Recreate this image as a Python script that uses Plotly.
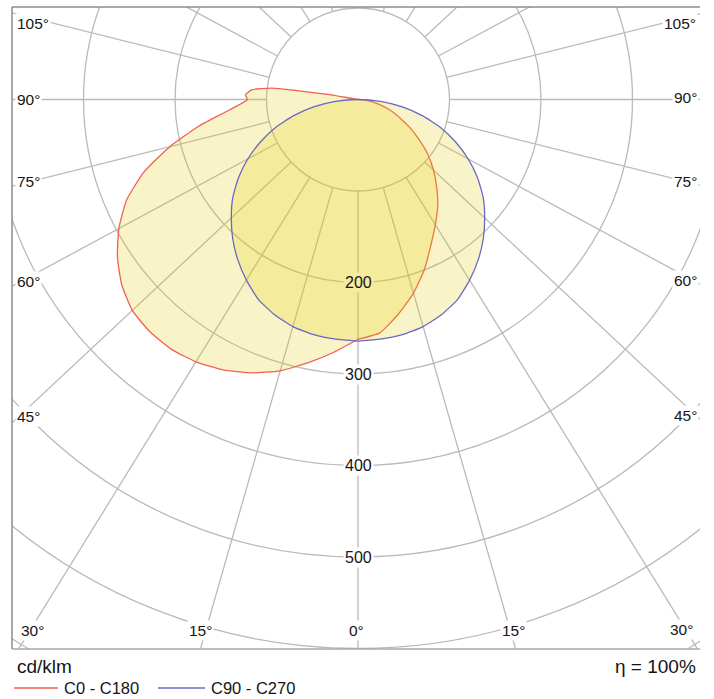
import numpy as np
import plotly.graph_objects as go

# ---------------- data (cd/klm) ----------------
# C0 half-plane (drawn to the right)
c0_gamma = [0, 5, 10, 15, 20, 25, 30, 35, 40, 45, 50, 55, 60, 65, 70, 75, 80, 85, 90]
c0_cd = [262, 256, 238, 219, 198, 176, 158, 142, 125, 109, 93, 76, 61, 47, 36, 24, 14, 6, 0]

# C180 half-plane (drawn to the left)
c180_gamma = [0, 5, 10, 15, 20, 25, 30, 35, 40, 45, 50, 55, 60, 65, 70, 75, 80, 85, 90,
              92.5, 95.5, 98, 100.5, 105]
c180_cd = [262, 277, 292, 307, 318, 326, 331, 333, 331, 326, 315, 300, 282, 261, 233, 199, 164, 132, 113,
           115, 109, 89, 28, 0]

# C90 / C270 half-planes
c90_gamma = [0, 5, 10, 15, 20, 25, 30, 35, 40, 45, 50, 55, 60, 65, 70, 75, 80, 85, 90]
c90_cd = [264, 263, 261, 257, 250, 241, 228, 214, 199, 183, 167, 149, 130, 110, 90, 68, 46, 23, 0]
c270_gamma = [0, 5, 10, 15, 20, 25, 30, 35, 40, 45, 50, 55, 60, 65, 70, 75, 80, 85, 90]
c270_cd = [264, 263, 261, 257, 250, 241, 228, 214, 199, 183, 167, 149, 130, 110, 90, 68, 46, 23, 0]

ring_values = [100, 200, 300, 400, 500, 600, 700]
ring_labels = [200, 300, 400, 500]
spoke_angles = list(range(0, 360, 15))

left_labels = ["105°", "90°", "75°", "60°", "45°", "30°"]
bottom_labels = ["15°", "0°", "15°"]
right_labels = ["30°", "45°", "60°", "75°", "90°", "105°"]
series_names = ["C0 - C180", "C90 - C270"]

# ---------------- geometry helpers ----------------
W, H = 714, 699
ML, MR, MT, MB = 12, 14, 7, 50
CX, CY = 358.0, 99.5          # pixel position of the pole
PX_PER_CD = 0.915
X_RANGE = [(ML - CX) / PX_PER_CD, (W - MR - CX) / PX_PER_CD]
Y_RANGE = [(CY - (H - MB)) / PX_PER_CD, (CY - MT) / PX_PER_CD]
STRETCH = 1.07   # the diagram's angular grid is drawn slightly wider than tall


def half(gamma, cd, side):
    g = np.radians(np.asarray(gamma, dtype=float))
    r = np.asarray(cd, dtype=float)
    return side * STRETCH * r * np.sin(g), -r * np.cos(g)


def paper(px, py):
    return (px - ML) / (W - ML - MR), ((H - MB) - py) / (H - MT - MB)


fill_col = "rgba(227,204,0,0.216)"
red = "rgb(240,96,84)"
blue = "rgb(104,104,196)"
grid = "#bababa"
txt = "#151515"
FONT = "Liberation Sans, Arial, sans-serif"

fig = go.Figure()

# red curve: C0 (right, from 90 down to 0) then C180 (left, 0 up)
xr, yr = half(c0_gamma[::-1], c0_cd[::-1], 1)
xl, yl = half(c180_gamma, c180_cd, -1)
fig.add_trace(go.Scatter(x=np.concatenate([xr, xl]), y=np.concatenate([yr, yl]),
                         mode="lines", fill="toself", fillcolor=fill_col,
                         line=dict(color=red, width=1.3, shape="spline", smoothing=0.5),
                         name=series_names[0], hoverinfo="skip", showlegend=False))

xr, yr = half(c90_gamma[::-1], c90_cd[::-1], 1)
xl, yl = half(c270_gamma, c270_cd, -1)
fig.add_trace(go.Scatter(x=np.concatenate([xr, xl]), y=np.concatenate([yr, yl]),
                         mode="lines", fill="toself", fillcolor=fill_col,
                         line=dict(color=blue, width=1.3, shape="spline", smoothing=0.5),
                         name=series_names[1], hoverinfo="skip", showlegend=False))

shapes = []
for rv in ring_values:
    shapes.append(dict(type="circle", xref="x", yref="y", x0=-rv, x1=rv, y0=-rv, y1=rv,
                       line=dict(color=grid, width=1.3), layer="below"))
for a in spoke_angles:
    g = np.radians(a)
    ux, uy = STRETCH * np.sin(g), -np.cos(g)
    n = np.hypot(ux, uy)
    ux, uy = ux / n, uy / n
    shapes.append(dict(type="line", xref="x", yref="y",
                       x0=ring_values[0] * ux, y0=ring_values[0] * uy,
                       x1=1200 * ux, y1=1200 * uy,
                       line=dict(color=grid, width=1.3), layer="below"))

# frame (left, top, bottom)
frame = "#8c8c8c"
shapes += [
    dict(type="line", xref="paper", yref="paper", x0=0, x1=0, y0=0, y1=1, line=dict(color=frame, width=1.5)),
    dict(type="line", xref="paper", yref="paper", x0=0, x1=1, y0=1, y1=1, line=dict(color=frame, width=1.6)),
    dict(type="line", xref="paper", yref="paper", x0=0, x1=1, y0=0, y1=0, line=dict(color="#a8a8a8", width=1.5)),
]

# legend swatches
lx0, ly = paper(14, 688)
lx1, _ = paper(58, 688)
bx0, _ = paper(158, 688)
bx1, _ = paper(205, 688)
shapes += [
    dict(type="line", xref="paper", yref="paper", x0=lx0, x1=lx1, y0=ly, y1=ly, line=dict(color=red, width=1.3)),
    dict(type="line", xref="paper", yref="paper", x0=bx0, x1=bx1, y0=ly, y1=ly, line=dict(color=blue, width=1.3)),
]

ann = []


def label(text, px, py, size=15, bg="white", xanchor="center"):
    x, y = paper(px, py)
    ann.append(dict(text=text, x=x, y=y, xref="paper", yref="paper", showarrow=False,
                    xanchor=xanchor, yanchor="middle", bgcolor=bg, borderpad=1,
                    font=dict(family=FONT, size=size, color=txt)))


left_pos = [(33, 24), (28, 99), (28, 182), (28, 281), (28, 416), (32, 630)]
bottom_pos = [(200, 630), (356, 630), (513, 630)]
right_pos = [(681, 629), (685, 415), (685, 280), (685, 182), (685, 98), (680, 23)]
for t, p in zip(left_labels, left_pos):
    label(t, *p, size=15.5)
for t, p in zip(bottom_labels, bottom_pos):
    label(t, *p, size=15.5)
for t, p in zip(right_labels, right_pos):
    label(t, *p, size=15.5)

# ring value labels on the 0° axis
for rv in ring_labels:
    bg = "rgb(244,236,158)" if rv == 200 else "white"
    ann.append(dict(text=str(rv), x=0, y=-rv, xref="x", yref="y", showarrow=False,
                    xanchor="center", yanchor="middle", bgcolor=bg, borderpad=1,
                    font=dict(family=FONT, size=16, color=txt)))

label("cd/klm", 15, 666, size=19, bg="rgba(0,0,0,0)", xanchor="left")
label("η = 100%", 698, 666, size=19, bg="rgba(0,0,0,0)", xanchor="right")
label(series_names[0], 62, 688, size=16.5, bg="rgba(0,0,0,0)", xanchor="left")
label(series_names[1], 209, 688, size=16.5, bg="rgba(0,0,0,0)", xanchor="left")

fig.update_layout(
    width=W, height=H,
    margin=dict(l=ML, r=MR, t=MT, b=MB),
    paper_bgcolor="white", plot_bgcolor="white",
    shapes=shapes, annotations=ann, showlegend=False,
    xaxis=dict(range=X_RANGE, visible=False, showgrid=False, zeroline=False, fixedrange=True),
    yaxis=dict(range=Y_RANGE, visible=False, showgrid=False, zeroline=False, fixedrange=True),
)

fig.write_html("out.html", config={"displayModeBar": False},
               post_script="document.body.style.margin='0px';document.body.style.padding='0px';")
